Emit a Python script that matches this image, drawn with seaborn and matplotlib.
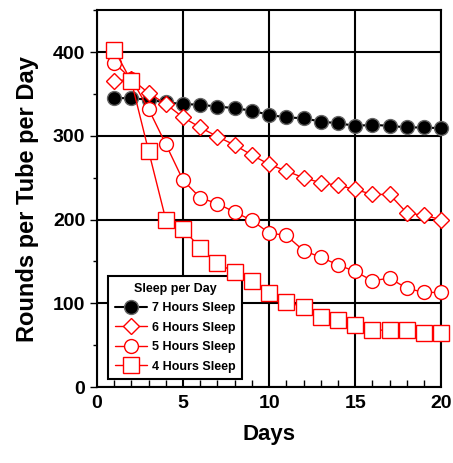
import matplotlib
matplotlib.use("Agg")
import matplotlib.pyplot as plt
import seaborn as sns
import pandas as pd
from matplotlib.ticker import MultipleLocator

days = list(range(1, 21))
sleep7 = [345, 345, 343, 340, 338, 337, 335, 333, 330, 325, 322, 321, 317, 315, 312, 313, 312, 310, 310, 309]
sleep6 = [365, 368, 351, 338, 322, 310, 299, 289, 277, 266, 258, 250, 244, 241, 236, 230, 230, 208, 205, 200]
sleep5 = [387, 368, 332, 290, 247, 226, 219, 209, 199, 184, 181, 163, 155, 146, 138, 127, 130, 118, 113, 113]
sleep4 = [403, 365, 282, 200, 189, 166, 148, 137, 127, 112, 101, 96, 84, 80, 74, 68, 68, 68, 64, 64]
series_names = ["7 Hours Sleep", "6 Hours Sleep", "5 Hours Sleep", "4 Hours Sleep"]

sns.set_theme(style="white")
plt.rcParams['font.family'] = ['Liberation Sans', 'DejaVu Sans']
plt.rcParams['font.weight'] = 'bold'
plt.rcParams['text.color'] = 'black'
plt.rcParams['axes.labelcolor'] = 'black'
plt.rcParams['xtick.color'] = 'black'
plt.rcParams['ytick.color'] = 'black'

fig = plt.figure(figsize=(4.53, 4.63), dpi=100)
ax = fig.add_axes([0.214, 0.164, 0.760, 0.814])

styles = [
    dict(color="black", marker="o", mfc="black", mec="#666666", ms=10, lw=1.5, mew=1.0),
    dict(color="red", marker="D", mfc="white", mec="red", ms=8, lw=1.0, mew=1.0),
    dict(color="red", marker="o", mfc="white", mec="red", ms=10, lw=1.0, mew=1.0),
    dict(color="red", marker="s", mfc="white", mec="red", ms=11, lw=1.0, mew=1.0),
]
data = [sleep7, sleep6, sleep5, sleep4]

for name, vals, st in zip(series_names, data, styles):
    df = pd.DataFrame({"Days": days, "val": vals})
    sns.lineplot(data=df, x="Days", y="val", ax=ax, color=st["color"], marker=st["marker"],
                 markerfacecolor=st["mfc"], markeredgecolor=st["mec"], markersize=st["ms"],
                 linewidth=st["lw"], markeredgewidth=st["mew"], label=name, zorder=3,
                 clip_on=False)

ax.set_xlim(0, 20)
ax.set_ylim(0, 450)
ax.xaxis.set_major_locator(MultipleLocator(5))
ax.xaxis.set_minor_locator(MultipleLocator(1))
ax.yaxis.set_major_locator(MultipleLocator(100))
ax.yaxis.set_minor_locator(MultipleLocator(50))
ax.grid(True, which="major", color="black", linewidth=1.5)
ax.set_yticks([0, 100, 200, 300, 400])
ax.tick_params(axis="x", which="both", direction="in", length=5, width=1, bottom=True, labelsize=14, pad=6)
ax.tick_params(axis="x", which="major", length=0)
ax.tick_params(axis="y", which="both", direction="out", left=True, width=1, labelsize=14)
ax.tick_params(axis="y", which="major", length=5)
ax.tick_params(axis="y", which="minor", length=3)
for lab in ax.get_xticklabels() + ax.get_yticklabels():
    lab.set_fontweight("bold")
for s in ax.spines.values():
    s.set_color("black")
    s.set_linewidth(1.5)

ax.set_xlabel("Days", fontsize=16, fontweight="bold", labelpad=8)
ax.set_ylabel("Rounds per Tube per Day", fontsize=17, fontweight="bold", labelpad=10)

leg = ax.legend(title="Sleep per Day", loc="lower left", bbox_to_anchor=(0.015, 0.005),
                frameon=True, fancybox=False, edgecolor="black", fontsize=9,
                title_fontsize=9, borderpad=0.5, labelspacing=0.6, handlelength=2.6,
                handletextpad=0.4, framealpha=1)
leg.get_frame().set_linewidth(1.5)
leg.get_title().set_fontweight("bold")
leg.set_zorder(2.5)

fig.savefig("out.png", dpi=100)
